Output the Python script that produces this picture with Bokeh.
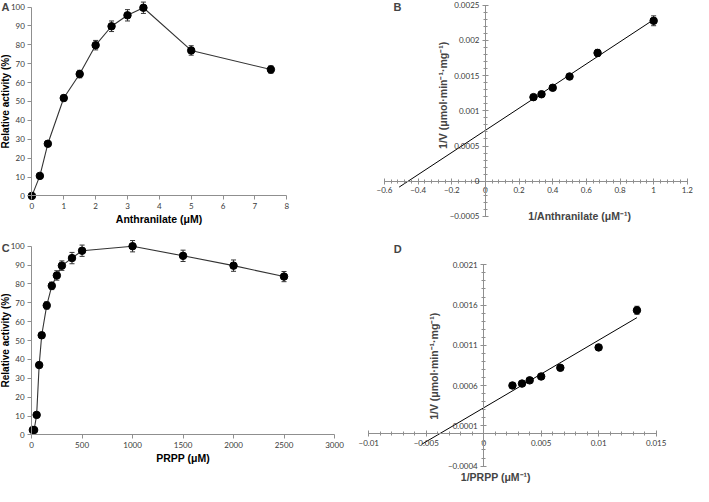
import numpy as np
from bokeh.plotting import figure
from bokeh.layouts import column, row
from bokeh.models import ColumnDataSource, Whisker, TeeHead, FixedTicker, Label, Range1d
from bokeh.embed import file_html
from bokeh.resources import INLINE

# ---------------- data ----------------
# Panel A: relative activity vs anthranilate (uM)
a_x = [0, 0.25, 0.5, 1, 1.5, 2, 2.5, 3, 3.5, 5, 7.5]
a_y = [0, 10.6, 27.6, 51.8, 64.5, 79.8, 89.8, 95.6, 99.6, 77.0, 66.9]
a_err = [0, 0.8, 1.0, 1.5, 2.0, 2.5, 2.8, 3.0, 3.0, 2.5, 2.0]
a_xticks = [0, 1, 2, 3, 4, 5, 6, 7, 8]
a_yticks = [0, 10, 20, 30, 40, 50, 60, 70, 80, 90, 100]

# Panel B: double reciprocal, anthranilate
b_x = [1 / 3.5, 1 / 3, 0.4, 0.5, 1 / 1.5, 1.0]
b_y = [0.001195, 0.001236, 0.001328, 0.001488, 0.001823, 0.00228]
b_err = [0.00003, 0.00003, 0.00003, 0.00004, 0.00005, 0.00007]
b_fit_start = -0.513
b_xticks = [-0.6, -0.4, -0.2, 0, 0.2, 0.4, 0.6, 0.8, 1.0, 1.2]
b_xlabels = ["\u22120.6", "\u22120.4", "\u22120.2", "0", "0.2", "0.4", "0.6", "0.8", "1", "1.2"]
b_yticks = [-0.0005, 0, 0.0005, 0.001, 0.0015, 0.002, 0.0025]
b_ylabels = ["\u22120.0005", "0", "0.0005", "0.001", "0.0015", "0.002", "0.0025"]

# Panel C: relative activity vs PRPP (uM)
c_x = [12.5, 25, 50, 75, 100, 150, 200, 250, 300, 400, 500, 1000, 1500, 2000, 2500]
c_y = [2.6, 2.6, 10.6, 37.0, 52.8, 68.6, 79.0, 84.5, 89.7, 93.7, 97.6, 100.0, 94.9, 89.7, 83.9]
c_err = [0.5, 0.5, 0.8, 1.2, 1.5, 2.0, 2.0, 2.5, 2.5, 3.0, 3.0, 3.0, 3.0, 3.0, 2.7]
c_xticks = [0, 500, 1000, 1500, 2000, 2500, 3000]
c_yticks = [0, 10, 20, 30, 40, 50, 60, 70, 80, 90, 100]

# Panel D: double reciprocal, PRPP
d_x = [1 / 400, 1 / 300, 1 / 250, 1 / 200, 1 / 150, 1 / 100, 1 / 75]
d_y = [0.000601, 0.000625, 0.000665, 0.000713, 0.000821, 0.001074, 0.001535]
d_err = [0.00001, 0.00001, 0.00001, 0.00001, 0.00002, 0.00003, 0.00005]
d_fit_start = -0.0054
d_xticks = [-0.01, -0.005, 0, 0.005, 0.01, 0.015]
d_xlabels = ["\u22120.01", "\u22120.005", "0", "0.005", "0.01", "0.015"]
d_yticks = [-0.0004, 0.0001, 0.0006, 0.0011, 0.0016, 0.0021]
d_ylabels = ["\u22120.0004", "0.0001", "0.0006", "0.0011", "0.0016", "0.0021"]

# ---------------- style ----------------
AX = "#8f8f8f"
TICK_FONT = "Lato"
LABEL_FONT = "Liberation Sans"


def span(d1, p1, d2, p2, lo_px, hi_px):
    """Range whose ends fall on the figure edges lo_px / hi_px, given two anchor pixels."""
    k = (d2 - d1) / (p2 - p1)
    return (d1 + (lo_px - p1) * k, d1 + (hi_px - p1) * k)


def base_fig(box, xanch, yanch):
    x0, y0, x1, y1 = box
    xr = span(*xanch, x0, x1)
    yr = span(*yanch, y1, y0)
    p = figure(width=x1 - x0, height=y1 - y0, x_range=Range1d(*xr), y_range=Range1d(*yr),
               output_backend="svg", toolbar_location=None, tools="",
               min_border_left=0, min_border_right=0,
               min_border_top=0, min_border_bottom=0)
    p.xgrid.visible = False
    p.ygrid.visible = False
    p.outline_line_color = None
    for ax in (p.xaxis[0], p.yaxis[0]):
        ax.fixed_location = 0
        ax.axis_line_color = AX
        ax.major_tick_line_color = AX
        ax.minor_tick_line_color = AX
        ax.major_label_text_font = TICK_FONT
        ax.major_label_text_font_size = "8px"
        ax.major_label_text_color = "#3a3a3a"
        ax.major_label_standoff = 3
        ax.axis_label_text_font = LABEL_FONT
        ax.axis_label_text_font_style = "bold"
        ax.axis_label_text_font_size = "10.5px"
        ax.axis_label_text_color = "black"
        ax.axis_label_standoff = 1
    return p


def add_points(p, xs, ys, errs):
    ys = np.asarray(ys, dtype=float)
    errs = np.asarray(errs, dtype=float)
    src = ColumnDataSource(dict(x=xs, y=ys, lo=ys - errs, hi=ys + errs))
    w = Whisker(source=src, base="x", lower="lo", upper="hi",
                line_color="#333333", line_width=1,
                upper_head=TeeHead(size=5, line_color="#333333", line_width=1),
                lower_head=TeeHead(size=5, line_color="#333333", line_width=1))
    p.add_layout(w)
    p.scatter("x", "y", source=src, size=7.5, color="black")


def panel_letter(p, text, x, y, xo, yo):
    p.add_layout(Label(x=x, y=y, x_offset=xo, y_offset=yo, text=text,
                       text_font=LABEL_FONT, text_font_style="bold",
                       text_font_size="11px", text_align="center",
                       text_baseline="middle"))


def free_label(p, text, x, y, xo, yo, angle=0.0):
    p.add_layout(Label(x=x, y=y, x_offset=xo, y_offset=yo, text=text, angle=angle,
                       text_font=LABEL_FONT, text_font_style="bold",
                       text_font_size="10.5px", text_align="center",
                       text_baseline="middle"))


def outer_axes(p, xticks, yticks):
    p.xaxis.ticker = FixedTicker(ticks=xticks)
    p.yaxis.ticker = FixedTicker(ticks=yticks)
    p.xaxis.bounds = (min(xticks), max(xticks))
    p.yaxis.bounds = (min(yticks), max(yticks))
    for ax in (p.xaxis[0], p.yaxis[0]):
        ax.major_tick_in = 0
        ax.major_tick_out = 4
        ax.minor_tick_in = 0
        ax.minor_tick_out = 0
    p.yaxis.axis_label_standoff = -3
    p.yaxis.axis_label_text_font_size = "10px"


def cross_axes(p, xticks, xlabels, yticks, ylabels):
    p.xaxis.ticker = FixedTicker(ticks=xticks, minor_ticks=minor_between(xticks, 5))
    p.yaxis.ticker = FixedTicker(ticks=yticks, minor_ticks=minor_between(yticks, 5))
    p.xaxis.bounds = (min(xticks), max(xticks))
    p.yaxis.bounds = (min(yticks), max(yticks))
    p.xaxis.major_label_overrides = dict(zip(xticks, xlabels))
    p.yaxis.major_label_overrides = dict(zip(yticks, ylabels))
    for ax in (p.xaxis[0], p.yaxis[0]):
        ax.major_tick_in = 3
        ax.major_tick_out = 3
        ax.minor_tick_in = 2
        ax.minor_tick_out = 2


def minor_between(ticks, n):
    out = []
    for a, b in zip(ticks[:-1], ticks[1:]):
        step = (b - a) / n
        out.extend(a + step * k for k in range(1, n))
    return out


# ---------------- Panel A ----------------
pA = base_fig((8, 8, 360, 240), (0, 39.4, 8, 294.3), (0, 203.4, 100, 14.5))
outer_axes(pA, a_xticks, a_yticks)
pA.xaxis.axis_label = "Anthranilate (\u03bcM)"
pA.yaxis.axis_label = "Relative activity (%)"
pA.line(a_x, a_y, line_color="#333333", line_width=1.1)
add_points(pA, a_x, a_y, a_err)
panel_letter(pA, "A", 0, 100, -26.5, 0)

# ---------------- Panel B ----------------
pB = base_fig((360, 8, 701, 240), (-0.6, 392, 1.2, 694.8), (-0.0005, 223.9, 0.0025, 12.8))
cross_axes(pB, b_xticks, b_xlabels, b_yticks, b_ylabels)
b_slope, b_icpt = np.polyfit(b_x, b_y, 1)
b_lx = np.array([b_fit_start, max(b_x)])
pB.line(b_lx, b_slope * b_lx + b_icpt, line_color="black", line_width=1)
add_points(pB, b_x, b_y, b_err)
free_label(pB, "1/Anthranilate (\u03bcM\u207b\u00b9)", 0.56, 0, 0, -35)
free_label(pB, "1/V (\u03bcmol\u00b7min\u207b\u00b9\u00b7mg\u207b\u00b9)", 0, 0.00122, -42, 0, np.pi / 2)
panel_letter(pB, "B", -0.6, 0.0025, 13, -1.5)

# ---------------- Panel C ----------------
pC = base_fig((8, 240, 360, 494), (0, 39.1, 3000, 342), (0, 442.4, 100, 253.7))
outer_axes(pC, c_xticks, c_yticks)
pC.xaxis.axis_label = "PRPP (\u03bcM)"
pC.yaxis.axis_label = "Relative activity (%)"
pC.line(c_x, c_y, line_color="#333333", line_width=1.1)
add_points(pC, c_x, c_y, c_err)
panel_letter(pC, "C", 0, 100, -26, -1.4)

# ---------------- Panel D ----------------
pD = base_fig((360, 240, 701, 494), (-0.01, 376.3, 0.015, 663.6), (-0.0004, 473.6, 0.0021, 272.3))
cross_axes(pD, d_xticks, d_xlabels, d_yticks, d_ylabels)
d_slope, d_icpt = np.polyfit(d_x, d_y, 1)
d_lx = np.array([d_fit_start, max(d_x)])
pD.line(d_lx, d_slope * d_lx + d_icpt, line_color="black", line_width=1)
add_points(pD, d_x, d_y, d_err)
free_label(pD, "1/PRPP (\u03bcM\u207b\u00b9)", 0.00105, 0, 0, -43.5)
free_label(pD, "1/V (\u03bcmol\u00b7min\u207b\u00b9\u00b7mg\u207b\u00b9)", 0, 0.00084, -50, 0, np.pi / 2)
panel_letter(pD, "D", -0.01, 0.0021, 29, 16)

layout = column(row(pA, pB), row(pC, pD))
open("out.html", "w").write(file_html(layout, INLINE))
